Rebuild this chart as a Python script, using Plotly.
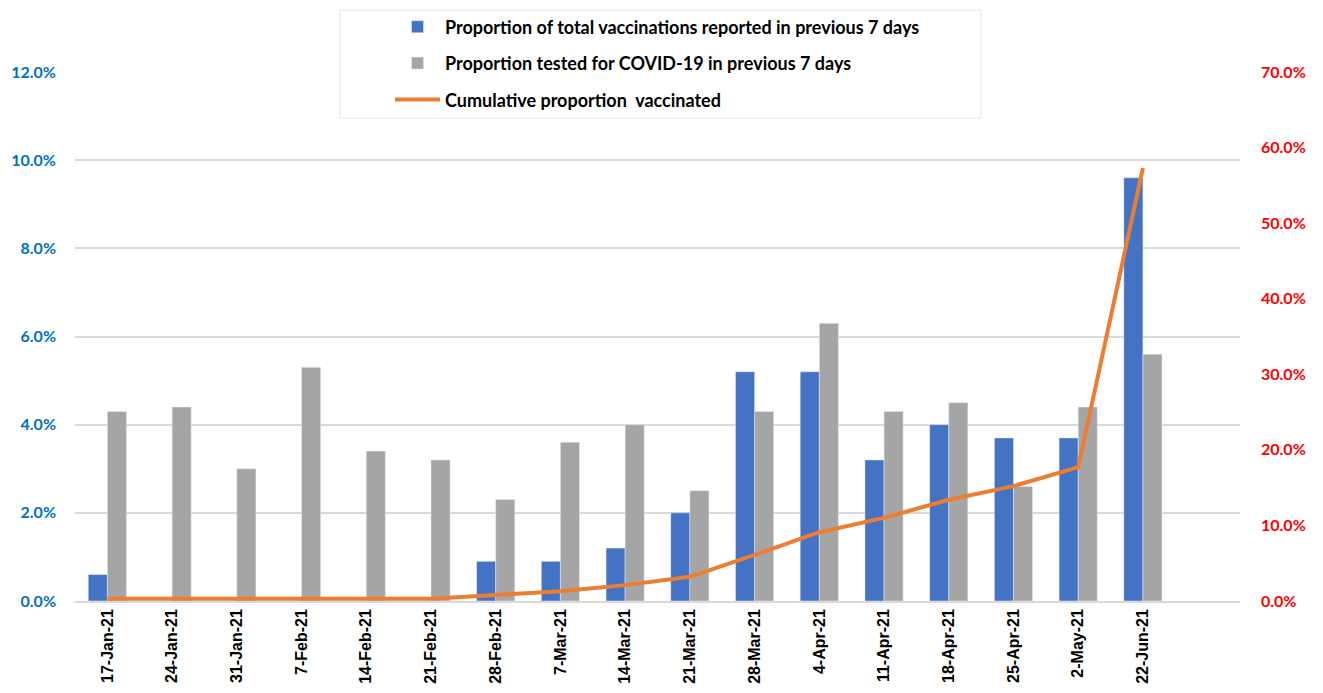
import plotly.graph_objects as go

categories = ["17-Jan-21", "24-Jan-21", "31-Jan-21", "7-Feb-21", "14-Feb-21", "21-Feb-21",
              "28-Feb-21", "7-Mar-21", "14-Mar-21", "21-Mar-21", "28-Mar-21", "4-Apr-21",
              "11-Apr-21", "18-Apr-21", "25-Apr-21", "2-May-21", "22-Jun-21"]
vaccinated_7d = [0.006, 0.0, 0.0, 0.0, 0.0, 0.0, 0.009, 0.009, 0.012, 0.020, 0.052, 0.052,
                 0.032, 0.040, 0.037, 0.037, 0.096]
tested_7d = [0.043, 0.044, 0.030, 0.053, 0.034, 0.032, 0.023, 0.036, 0.040, 0.025, 0.043, 0.063,
             0.043, 0.045, 0.026, 0.044, 0.056]
cumulative = [0.003, 0.003, 0.003, 0.003, 0.003, 0.003, 0.008, 0.013, 0.021, 0.032, 0.061, 0.091,
              0.110, 0.134, 0.152, 0.177, 0.573]

left_ticks = [0, 0.02, 0.04, 0.06, 0.08, 0.10, 0.12]
right_ticks = [0, 0.1, 0.2, 0.3, 0.4, 0.5, 0.6, 0.7]

fig = go.Figure()
fig.add_trace(go.Bar(x=categories, y=vaccinated_7d, name="Proportion of total vaccinations reported in previous 7 days",
                     marker_color="#4472C4", legendgroup="a"))
fig.add_trace(go.Bar(x=categories, y=tested_7d, name="Proportion tested for COVID-19 in previous 7 days",
                     marker_color="#A5A5A5", legendgroup="b"))
fig.add_trace(go.Scatter(x=categories, y=cumulative, name="Cumulative proportion  vaccinated",
                         mode="lines", line=dict(color="#ED7D31", width=4), yaxis="y2", legendgroup="c"))

fig.update_layout(
    width=1323, height=693,
    margin=dict(l=75, r=83, t=72, b=92, autoexpand=False),
    paper_bgcolor="white", plot_bgcolor="white",
    barmode="group", bargap=0.41, bargroupgap=0,
    font=dict(family="Liberation Sans, Arial", size=14, color="black"),
    xaxis=dict(type="category", categoryorder="array", categoryarray=categories,
               range=[-0.5, 17.5], tickangle=-90, showgrid=False, automargin=False,
               showline=True, linecolor="#D9D9D9", linewidth=1.5, ticks="",
               tickfont=dict(family="Liberation Sans, Arial", size=16, color="black", weight="bold")),
    yaxis=dict(range=[0, 0.12], tickvals=left_ticks, tickformat=".1%", automargin=False,
               showgrid=True, gridcolor="#D9D9D9", gridwidth=1.5, zeroline=False,
               showline=False, ticks="", ticklabelstandoff=18,
               tickfont=dict(family="Lato, Liberation Sans", size=16, color="#0070C0", weight="bold")),
    yaxis2=dict(range=[0, 0.7], tickvals=right_ticks, tickformat=".1%", overlaying="y", side="right",
                showgrid=False, zeroline=False, showline=False, ticks="", ticklabelstandoff=20,
                automargin=False,
                tickfont=dict(family="Lato, Liberation Sans", size=16, color="#FF0000", weight="bold")),
    legend=dict(x=0.2704, y=1.12, xanchor="left", yanchor="top",
                bgcolor="rgba(0,0,0,0)", borderwidth=0,
                font=dict(family="Lato, Liberation Sans", size=18, color="black", weight="bold"),
                itemwidth=45, tracegroupgap=10, traceorder="grouped"),
    showlegend=True,
    shapes=[dict(type="rect", xref="paper", yref="paper", x0=0.2275, x1=0.7777, y0=0.913, y1=1.117,
                 fillcolor="white", line=dict(color="#E6E6E6", width=1), layer="above")],
)

fig.write_html("out.html")
